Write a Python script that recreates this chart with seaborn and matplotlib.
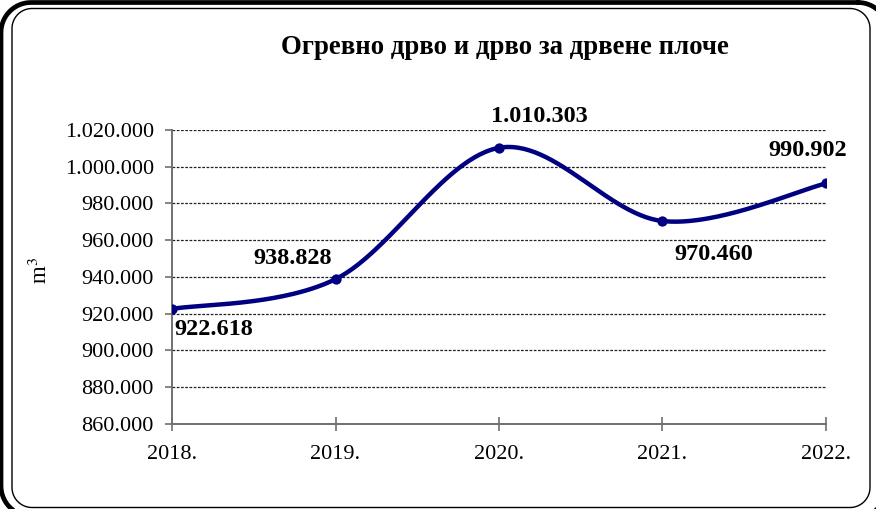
import numpy as np
import pandas as pd
import matplotlib
matplotlib.use("Agg")
import matplotlib.pyplot as plt
import seaborn as sns

# Fuelwood and wood for wood-based panels, m3 per year
years = [2018, 2019, 2020, 2021, 2022]
year_labels = ["2018.", "2019.", "2020.", "2021.", "2022."]
volumes = [922618, 938828, 1010303, 970460, 990902]
y_ticks = [860000, 880000, 900000, 920000, 940000, 960000, 980000, 1000000, 1020000]

title = "Огревно дрво и дрво за дрвене плоче"
y_label = "m$^3$"

# label offsets in pixels (dx, dy) relative to each point
label_offsets = [(42, -21), (-43, 21), (40, 31), (51, -33), (-18, 33)]

sns.set_theme(style="white")
plt.rcParams["font.family"] = ["Liberation Serif", "DejaVu Serif"]
plt.rcParams["mathtext.fontset"] = "stix"

W, H, DPI = 876, 509, 100
fig = plt.figure(figsize=(W / DPI, H / DPI), dpi=DPI)
fig.patch.set_facecolor("white")


def rounded_rect(left, top, right, bottom, r, n=20):
    """Outline of a rounded rectangle in pixel coordinates (y downward)."""
    a = np.linspace(0, np.pi / 2, n)
    xs, ys = [], []
    corners = [(right - r, top + r, -np.pi / 2), (right - r, bottom - r, 0),
               (left + r, bottom - r, np.pi / 2), (left + r, top + r, np.pi)]
    for cx, cy, start in corners:
        xs.extend(cx + r * np.cos(start + a))
        ys.extend(cy + r * np.sin(start + a))
    xs.append(xs[0])
    ys.append(ys[0])
    return np.array(xs), np.array(ys)


# frames drawn directly in figure pixel space
for (l, t_, r_, b, rad, lw) in [(1.0, 2.5, 888, 516, 30, 3.4),
                                 (12, 8.5, 870, 507.5, 20, 1.0)]:
    fx, fy = rounded_rect(l, t_, r_, b, rad)
    fig.add_artist(plt.Line2D(fx / W, 1 - fy / H, color="black", lw=lw,
                              transform=fig.transFigure, zorder=0,
                              solid_joinstyle="round"))

# plot area in pixel coordinates
px_left, px_right, px_top, px_bottom = 172, 826, 130, 424
ax = fig.add_axes([px_left / W, 1 - px_bottom / H,
                   (px_right - px_left) / W, (px_bottom - px_top) / H])
ax.set_facecolor("none")

y_min, y_max = 860000, 1020000
x_idx = np.arange(len(years), dtype=float)


def fmt(v):
    return f"{v:,.0f}".replace(",", ".")


# smoothed line: cubic Bezier segments with Catmull-Rom style control points,
# computed in screen-proportional space so the curvature looks even
sx = (px_right - px_left) / (len(years) - 1)
sy = (px_bottom - px_top) / (y_max - y_min)
P = np.column_stack([x_idx * sx, (np.array(volumes) - y_min) * sy])
n = len(P)
curve = []
t = np.linspace(0, 1, 60)
for i in range(n - 1):
    p0 = P[max(i - 1, 0)]
    p1 = P[i]
    p2 = P[i + 1]
    p3 = P[min(i + 2, n - 1)]
    c1 = p1 + (p2 - p0) / 6
    c2 = p2 - (p3 - p1) / 6
    seg = ((1 - t) ** 3)[:, None] * p1 + (3 * (1 - t) ** 2 * t)[:, None] * c1 \
        + (3 * (1 - t) * t ** 2)[:, None] * c2 + (t ** 3)[:, None] * p2
    curve.append(seg if i == 0 else seg[1:])
curve = np.vstack(curve)
smooth = pd.DataFrame({"x": curve[:, 0] / sx, "y": curve[:, 1] / sy + y_min})
points = pd.DataFrame({"x": x_idx, "y": volumes})

for yt in y_ticks:
    ax.axhline(yt, color="#222222", lw=0.9, ls=(0, (2.2, 1.2)), zorder=1)

sns.lineplot(data=smooth, x="x", y="y", sort=False, estimator=None,
             color="#000080", lw=3.2, ax=ax, zorder=3)
sns.scatterplot(data=points, x="x", y="y", color="#000080", s=55,
                edgecolor="#000080", linewidth=0, ax=ax, zorder=4)

for xi, v, (dx, dy) in zip(x_idx, volumes, label_offsets):
    ax.annotate(fmt(v), (xi, v), xytext=(dx, dy), textcoords="offset pixels",
                ha="center", va="center", fontsize=17.5, fontweight="bold",
                color="black", zorder=5)

ax.set_xlim(0, len(years) - 1)
ax.set_ylim(y_min, y_max)
ax.set_xticks(x_idx)
ax.set_xticklabels(year_labels)
ax.set_yticks(y_ticks)
ax.set_yticklabels([fmt(v) for v in y_ticks])
ax.set_xlabel("")
ax.set_ylabel("")

for side in ["top", "right"]:
    ax.spines[side].set_visible(False)
for side in ["left", "bottom"]:
    ax.spines[side].set_visible(True)
    ax.spines[side].set_color("#707070")
    ax.spines[side].set_linewidth(1.4)

ax.tick_params(axis="y", direction="out", length=5, width=1.2, color="#707070",
               labelsize=16, pad=8, left=True, labelcolor="black")
ax.tick_params(axis="x", direction="inout", length=10, width=1.2, color="#707070",
               labelsize=16, pad=10, bottom=True, labelcolor="black")

fig.text(505 / W, 1 - 48 / H, title, ha="center", va="center",
         fontsize=19.3, fontweight="bold", color="black")
fig.text(40 / W, 1 - 270 / H, y_label, ha="center", va="center",
         rotation=90, fontsize=16.5, color="black")

fig.savefig("out.png", dpi=DPI, facecolor="white")
